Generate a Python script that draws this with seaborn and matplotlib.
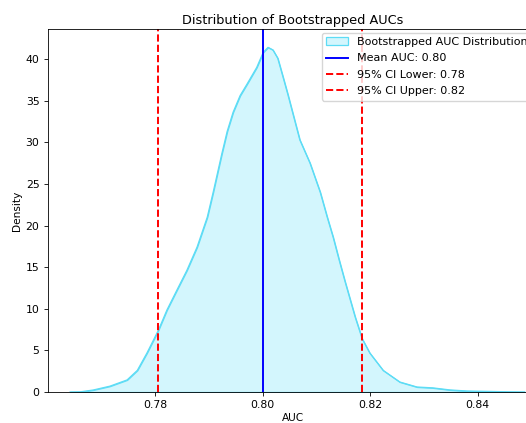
import numpy as np
import pandas as pd
import matplotlib
matplotlib.use("Agg")
import matplotlib.pyplot as plt
import seaborn as sns

# Density curve of the bootstrapped AUCs
auc_grid = [0.7642, 0.7661, 0.7685, 0.7716, 0.7748, 0.7767, 0.7785, 0.7806,
            0.7822, 0.7841, 0.7859, 0.7878, 0.7897, 0.7908, 0.7924, 0.7934,
            0.7945, 0.7958, 0.7971, 0.7989, 0.8001, 0.8010, 0.8019, 0.8028,
            0.8038, 0.8047, 0.8058, 0.8069, 0.8088, 0.8107, 0.8120, 0.8131,
            0.8142, 0.8153, 0.8172, 0.8185, 0.8199, 0.8224, 0.8255, 0.8287,
            0.8316, 0.8348, 0.8380, 0.8422, 0.8459, 0.8487]
density = [0.0, 0.02, 0.24, 0.7, 1.45, 2.6, 4.7, 7.4,
           9.85, 12.3, 14.6, 17.4, 21.0, 24.0, 28.6, 31.3,
           33.6, 35.6, 37.0, 39.0, 40.8, 41.4, 41.1, 40.1,
           37.8, 35.7, 33.0, 30.3, 27.5, 24.0, 21.0, 18.6,
           15.9, 13.3, 9.0, 6.4, 4.7, 2.6, 1.2, 0.6,
           0.5, 0.25, 0.12, 0.07, 0.02, 0.0]

mean_auc = 0.800
ci_lower = 0.7806
ci_upper = 0.8185

df = pd.DataFrame({"AUC": auc_grid, "Density": density})

fig = plt.figure(figsize=(5.26, 4.23), dpi=100)
ax = fig.add_axes([0.0913, 0.0733, 0.9316, 0.858])

line_color = "#5ddcf5"
fill_color = "#d3f6fd"

ax.fill_between(df["AUC"], df["Density"], color=fill_color, edgecolor=line_color,
                linewidth=0.9, label="Bootstrapped AUC Distribution")
sns.lineplot(data=df, x="AUC", y="Density", ax=ax, color=line_color, linewidth=0.9)

ax.axvline(mean_auc, color="blue", linestyle="-", linewidth=1.4,
           label=f"Mean AUC: {mean_auc:.2f}")
ax.axvline(ci_lower, color="red", linestyle="--", linewidth=1.4,
           label=f"95% CI Lower: {ci_lower:.2f}")
ax.axvline(ci_upper, color="red", linestyle="--", linewidth=1.4,
           label=f"95% CI Upper: {ci_upper:.2f}")

ax.set_xlim(0.7601, 0.8512)
ax.set_ylim(0, 43.6)
ax.set_xticks([0.78, 0.80, 0.82, 0.84])
ax.set_yticks([0, 5, 10, 15, 20, 25, 30, 35, 40])
ax.tick_params(labelsize=7.8, length=2.6, width=0.6)
for s in ax.spines.values():
    s.set_linewidth(0.6)

ax.set_title("Distribution of Bootstrapped AUCs", fontsize=9.3, pad=4)
ax.set_xlabel("AUC", fontsize=7.6, labelpad=1.5)
ax.set_ylabel("Density", fontsize=7.6, labelpad=3)
ax.legend(loc="upper right", bbox_to_anchor=(0.988, 0.99), borderaxespad=0.0,
          fontsize=8.0, labelspacing=0.57, handlelength=2.0)

fig.savefig("out.png", dpi=100)
plt.close(fig)
